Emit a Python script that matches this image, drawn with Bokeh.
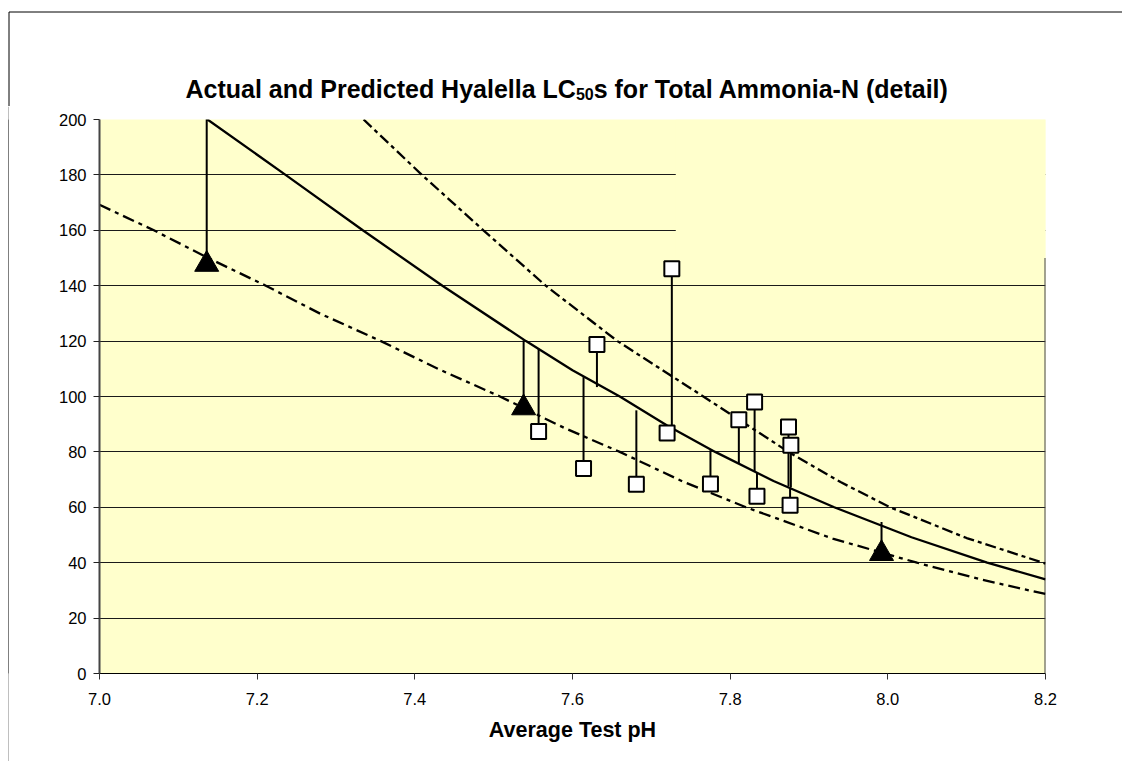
from bokeh.plotting import figure
from bokeh.layouts import column, row
from bokeh.models import FixedTicker, PrintfTickFormatter, Range1d, Spacer
from bokeh.core.properties import value
from bokeh.embed import file_html
from bokeh.resources import INLINE

# ---- measured LC50s (mg/L total ammonia-N) ----
# Triangles: one set of tests; squares: the other set
tri_ph = [7.136, 7.538, 7.992]
tri_actual = [147.7, 95.9, 43.3]
tri_predicted = [201.0, 120.3, 54.7]

sq_ph = [7.557, 7.614, 7.631, 7.681, 7.720, 7.726, 7.775, 7.811, 7.831, 7.834, 7.874, 7.876, 7.877]
sq_actual = [87.4, 74.0, 118.8, 68.3, 86.8, 146.1, 68.4, 91.6, 98.0, 64.0, 89.0, 60.7, 82.4]
sq_predicted = [117.2, 107.0, 103.4, 95.0, 89.5, 88.5, 80.6, 76.0, 72.8, 72.5, 67.5, 67.3, 67.2]

# ---- predicted LC50 curve and its upper / lower bounds ----
pred_ph = [7.137, 7.236, 7.334, 7.435, 7.541, 7.600, 7.660, 7.720, 7.781, 7.855, 7.932, 8.030, 8.126, 8.200]
pred_val = [200.0, 180.0, 160.0, 140.0, 120.0, 109.5, 100.0, 89.5, 80.0, 69.5, 60.0, 49.2, 40.0, 34.0]

upper_ph = [7.335, 7.409, 7.487, 7.566, 7.657, 7.766, 7.874, 7.940, 8.003, 8.100, 8.200]
upper_val = [200.0, 180.0, 160.0, 140.0, 120.0, 100.0, 80.0, 69.1, 60.0, 48.9, 39.7]

lower_ph = [7.000, 7.069, 7.140, 7.211, 7.280, 7.357, 7.430, 7.508, 7.590, 7.660, 7.740,
            7.820, 7.930, 8.037, 8.120, 8.200]
lower_val = [169.2, 160.0, 149.7, 140.0, 129.9, 120.0, 109.9, 100.0, 88.6, 80.0, 69.3,
             60.0, 48.7, 40.0, 33.8, 28.7]

x_ticks = [7.0, 7.2, 7.4, 7.6, 7.8, 8.0, 8.2]
y_ticks = [0, 20, 40, 60, 80, 100, 120, 140, 160, 180, 200]

title_parts = ["Actual and Predicted Hyalella LC", "50", "s for Total Ammonia-N (detail)"]

# empty key area in the upper right of the plot area
key_x0, key_x1, key_y0, key_y1 = 7.731, 8.2, 150, 200

BG = "#FFFFCC"
FONT = "Liberation Sans"
W, H = 1122, 761
TOP_H = 106      # height of the title strip
BORDER_X = 8     # x position of the chart-area left border

# ---------------- title strip (pixel coordinates) ----------------
top = figure(width=W, height=TOP_H, x_range=Range1d(0, W), y_range=Range1d(0, TOP_H),
             output_backend="svg", toolbar_location=None, min_border=0)
top.axis.visible = False
top.grid.visible = False
top.outline_line_color = None
top.background_fill_color = "white"
top.border_fill_color = "white"

# chart-area border: top edge and upper part of the left edge
top.segment(x0=[BORDER_X + 0.5], y0=[TOP_H - 11.5], x1=[W], y1=[TOP_H - 11.5],
            line_color="black", line_width=1)
top.segment(x0=[BORDER_X + 0.5], y0=[0], x1=[BORDER_X + 0.5], y1=[TOP_H - 11.5],
            line_color="black", line_width=1)

title_base = TOP_H - 88
big, small = 25.0, 16.0
w0 = 15.616 * big          # advance of the first part (bold Liberation Sans)
w1 = 1.112 * small         # advance of the subscript
x_start = 185
top.text(x=[x_start], y=[title_base], text=[title_parts[0]], text_font=value(FONT),
         text_font_style="bold", text_font_size=value(f"{big}px"), text_color="black",
         text_align="left", text_baseline="alphabetic")
top.text(x=[x_start + w0], y=[title_base - 5], text=[title_parts[1]], text_font=value(FONT),
         text_font_style="bold", text_font_size=value(f"{small}px"), text_color="black",
         text_align="left", text_baseline="alphabetic")
top.text(x=[x_start + w0 + w1], y=[title_base], text=[title_parts[2]], text_font=value(FONT),
         text_font_style="bold", text_font_size=value(f"{big}px"), text_color="black",
         text_align="left", text_baseline="alphabetic")

# ---------------- left border: a 1px wide all-black figure ----------------
edge = figure(width=1, height=H - TOP_H, x_range=Range1d(0, 1), y_range=Range1d(0, 1),
              output_backend="svg", toolbar_location=None, min_border=0)
edge.axis.visible = False
edge.grid.visible = False
edge.outline_line_color = None
edge.background_fill_color = "black"
edge.border_fill_color = "black"

# ---------------- main plot ----------------
MAIN_W = W - BORDER_X - 1
p = figure(width=MAIN_W, height=H - TOP_H, x_range=(7.0, 8.2), y_range=(0, 200),
           output_backend="svg", toolbar_location=None,
           min_border_left=99 - BORDER_X - 1, min_border_right=77, min_border_top=119 - TOP_H,
           min_border_bottom=88)
p.background_fill_color = BG
p.border_fill_color = "white"
p.outline_line_color = None

p.xaxis.ticker = FixedTicker(ticks=x_ticks)
p.xaxis.formatter = PrintfTickFormatter(format="%.1f")
p.yaxis.ticker = FixedTicker(ticks=y_ticks)
for ax in (p.xaxis[0], p.yaxis[0]):
    ax.major_label_text_font = FONT
    ax.major_label_text_font_size = "16.5px"
    ax.major_label_text_color = "#000000"
    ax.major_tick_out = 6
    ax.major_tick_in = 0
    ax.minor_tick_out = 0
    ax.minor_tick_in = 0
p.xaxis.axis_line_color = "#000000"
p.xaxis.major_tick_line_color = "#333333"
p.yaxis.axis_line_color = "#444444"
p.yaxis.axis_line_width = 2
p.yaxis.major_tick_line_color = "#222222"
p.xaxis.major_label_standoff = 13
p.yaxis.major_label_standoff = 7

p.xaxis.axis_label = "Average Test pH"
p.xaxis.axis_label_text_font = FONT
p.xaxis.axis_label_text_font_style = "bold"
p.xaxis.axis_label_text_font_size = "21.5px"
p.xaxis.axis_label_text_color = "#000000"
p.xaxis.axis_label_standoff = 10

p.xgrid.grid_line_color = None
p.ygrid.grid_line_color = "#1a1a1a"
p.ygrid.grid_line_width = 1

# blank key area hides the gridlines beneath it
p.quad(left=[key_x0], right=[key_x1], bottom=[key_y0], top=[key_y1],
       fill_color=BG, line_color=None)
# right edge of the plot area, below the key area
p.segment(x0=[key_x1], y0=[0], x1=[key_x1], y1=[key_y0], line_color="#444444", line_width=2)

# curves
p.line(upper_ph, upper_val, line_color="black", line_width=2.3, line_dash="11 4 4 4")
p.line(lower_ph, lower_val, line_color="black", line_width=2.3, line_dash="12 5 4 5")
p.line(pred_ph, pred_val, line_color="black", line_width=2.3)

# drop lines from each measured value to its predicted value
p.segment(x0=sq_ph, y0=sq_actual, x1=sq_ph, y1=sq_predicted, line_color="black", line_width=2)
p.segment(x0=tri_ph, y0=tri_actual, x1=tri_ph, y1=tri_predicted, line_color="black", line_width=2)

p.scatter(sq_ph, sq_actual, marker="square", size=15, fill_color="white",
          line_color="black", line_width=2)
p.scatter(tri_ph, tri_actual, marker="triangle", size=24, fill_color="black",
          line_color="black", line_width=1)

layout = column(top, row(Spacer(width=BORDER_X, height=H - TOP_H), edge, p))
open("out.html", "w").write(file_html(layout, INLINE))
